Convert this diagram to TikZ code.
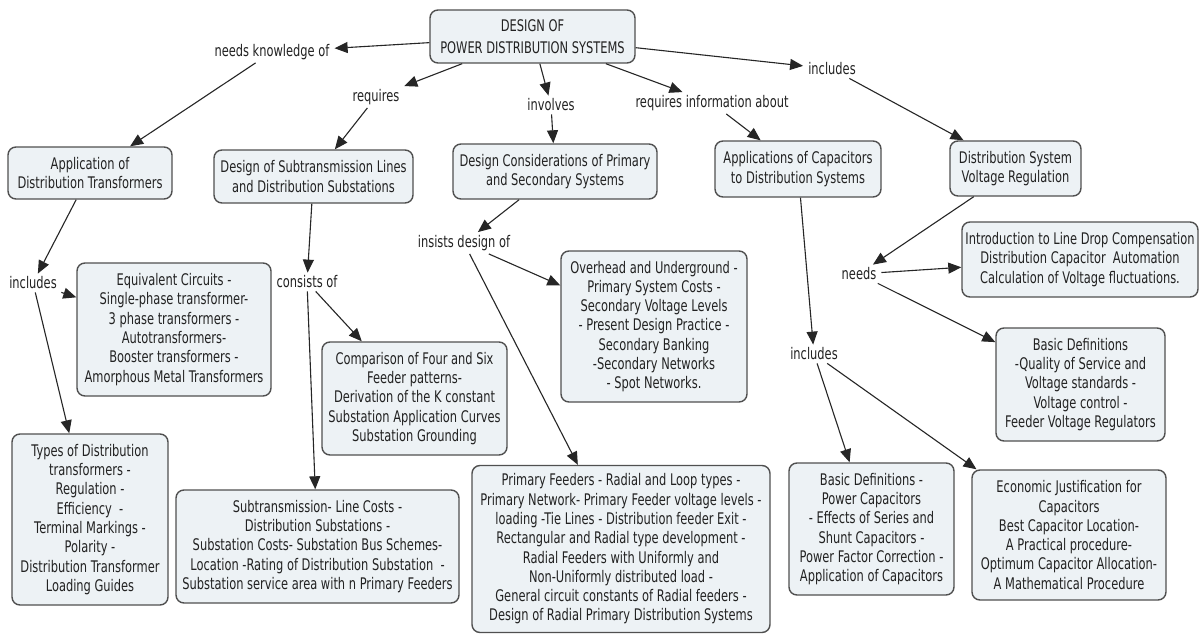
\documentclass[tikz,border=0pt]{standalone}
\usepackage{fontspec}
\setmainfont{DejaVu Sans}[FakeStretch=0.715]
\usetikzlibrary{arrows.meta}
\definecolor{boxfill}{HTML}{EDF2F5}
\definecolor{boxline}{HTML}{505050}
\definecolor{txt}{HTML}{222222}
\begin{document}
\begin{tikzpicture}[x=1pt,y=-1pt,
  concept/.style={draw=boxline, line width=1.4pt, fill=boxfill, rounded corners=8pt,
    align=center, inner sep=0pt, text=txt, font=\fontsize{16}{19.3}\selectfont},
  phrase/.style={align=center, inner xsep=5pt, inner ysep=3pt, text=txt,
    font=\fontsize{16}{19.3}\selectfont},
  link/.style={-{Triangle[length=13pt,width=11pt]}, line width=1.1pt, draw=black!85},
]
\useasboundingbox (0,0) rectangle (1203,634);
\fill[white] (0,0) rectangle (1203,634);

% concepts
\node[concept, minimum width=205pt, minimum height=53pt, font=\fontsize{16}{22}\selectfont]
  (root) at (532.5,36.5) {DESIGN OF\\POWER DISTRIBUTION SYSTEMS};
\node[concept, minimum width=164pt, minimum height=52pt] (app) at (90,173)
  {Application of\\Distribution Transformers};
\node[concept, minimum width=199pt, minimum height=53pt] (sub) at (313.5,176.5)
  {Design of Subtransmission Lines\\and Distribution Substations};
\node[concept, minimum width=204pt, minimum height=55pt] (dcon) at (555,171.5)
  {Design Considerations of Primary\\and Secondary Systems};
\node[concept, minimum width=166pt, minimum height=56pt] (cap) at (798,169)
  {Applications of Capacitors\\to Distribution Systems};
\node[concept, minimum width=131pt, minimum height=55pt] (vreg) at (1015.5,168.5)
  {Distribution System\\Voltage Regulation};

\node[concept, minimum width=194pt, minimum height=133pt] (equiv) at (174,329.5)
  {Equivalent Circuits -\\Single-phase transformer-\\3 phase transformers -\\Autotransformers-\\Booster transformers -\\Amorphous Metal Transformers};
\node[concept, minimum width=156pt, minimum height=171pt] (types) at (90,519.5)
  {Types of Distribution\\transformers -\\Regulation -\\Efficiency~ -\\Terminal Markings -\\Polarity -\\Distribution Transformer\\Loading Guides};
\node[concept, minimum width=185pt, minimum height=113pt] (comp) at (414.5,398.5)
  {Comparison of Four and Six\\Feeder patterns-\\Derivation of the K constant\\Substation Application Curves\\Substation Grounding};
\node[concept, minimum width=283pt, minimum height=113pt] (costs) at (317.5,546.5)
  {Subtransmission- Line Costs -\\Distribution Substations -\\Substation Costs- Substation Bus Schemes-\\Location -Rating of Distribution Substation~ -\\Substation service area with n Primary Feeders};
\node[concept, minimum width=186pt, minimum height=151pt] (over) at (654,326.5)
  {Overhead and Underground -\\Primary System Costs -\\Secondary Voltage Levels\\- Present Design Practice -\\Secondary Banking\\-Secondary Networks\\- Spot Networks.};
\node[concept, minimum width=298pt, minimum height=167pt] (prim) at (621,549)
  {Primary Feeders - Radial and Loop types -\\Primary Network- Primary Feeder voltage levels -\\loading -Tie Lines - Distribution feeder Exit -\\Rectangular and Radial type development -\\Radial Feeders with Uniformly and\\Non-Uniformly distributed load -\\General circuit constants of Radial feeders -\\Design of Radial Primary Distribution Systems};
\node[concept, minimum width=165pt, minimum height=132pt] (capdef) at (871.5,529)
  {Basic Definitions -\\Power Capacitors\\- Effects of Series and\\Shunt Capacitors -\\Power Factor Correction -\\Application of Capacitors};
\node[concept, minimum width=194pt, minimum height=130pt] (econ) at (1069,535)
  {Economic Justification for\\Capacitors\\Best Capacitor Location-\\A Practical procedure-\\Optimum Capacitor Allocation-\\A Mathematical Procedure};
\node[concept, minimum width=236pt, minimum height=75pt] (intro) at (1080,259.5)
  {Introduction to Line Drop Compensation\\Distribution Capacitor~ Automation\\Calculation of Voltage fluctuations.};
\node[concept, minimum width=169pt, minimum height=113pt] (vdef) at (1080.5,384.5)
  {Basic Definitions\\-Quality of Service and\\Voltage standards -\\Voltage control -\\Feeder Voltage Regulators};

% linking phrases
\node[phrase] (pknow) at (272,52) {needs knowledge of};
\node[phrase] (preq) at (376,97) {requires};
\node[phrase] (pinv) at (551,105) {involves};
\node[phrase] (pinfo) at (712,103) {requires information about};
\node[phrase] (pincl) at (832,69) {includes};
\node[phrase] (pinca) at (33,283) {includes};
\node[phrase] (pcons) at (307,282) {consists of};
\node[phrase] (pins) at (464,243) {insists design of};
\node[phrase] (pneed) at (859,274) {needs};
\node[phrase] (pincc) at (814,354) {includes};

% connectors
\draw[link] (root) -- (pknow);
\draw[link] (pknow) -- (app);
\draw[link] (root) -- (preq);
\draw[link] (preq) -- (sub);
\draw[link] (root) -- (pinv);
\draw[link] (pinv) -- (dcon);
\draw[link] (root) -- (pinfo);
\draw[link] (pinfo) -- (cap);
\draw[link] (root) -- (pincl);
\draw[link] (pincl) -- (vreg);

\draw[link] (app) -- (pinca);
\draw[link] (pinca) -- (equiv);
\draw[link] (pinca) -- (types);

\draw[link] (sub) -- (pcons);
\draw[link] (pcons) -- (comp);
\draw[link] (pcons) -- (costs);

\draw[link] (dcon) -- (pins);
\draw[link] (pins) -- (over);
\draw[link] (pins) -- (prim);

\draw[link] (vreg) -- (pneed);
\draw[link] (pneed) -- (intro);
\draw[link] (pneed) -- (vdef);

\draw[link] (cap) -- (pincc);
\draw[link] (pincc) -- (capdef);
\draw[link] (pincc) -- (econ);
\end{tikzpicture}
\end{document}
